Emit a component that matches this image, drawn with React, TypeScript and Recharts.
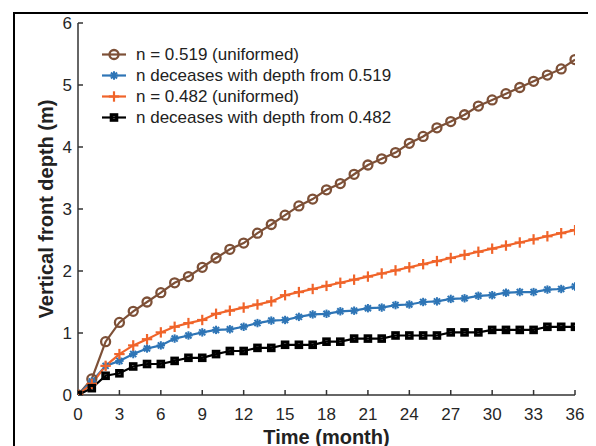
import React from 'react';
import { LineChart, Line, XAxis, YAxis, Legend } from 'recharts';

const months = Array.from({ length: 37 }, (_, i) => i);
const xTicks = [0, 3, 6, 9, 12, 15, 18, 21, 24, 27, 30, 33, 36];
const yTicks = [0, 1, 2, 3, 4, 5, 6];

const seriesA = [0, 0.26, 0.86, 1.17, 1.35, 1.5, 1.65, 1.81, 1.91, 2.06, 2.21, 2.35, 2.45, 2.61, 2.75, 2.9, 3.05, 3.16, 3.31, 3.41, 3.56, 3.71, 3.81, 3.91, 4.06, 4.17, 4.31, 4.41, 4.52, 4.66, 4.76, 4.86, 4.96, 5.06, 5.16, 5.26, 5.41];
const seriesB = [0, 0.22, 0.47, 0.55, 0.66, 0.75, 0.8, 0.91, 0.96, 1.01, 1.05, 1.06, 1.1, 1.16, 1.2, 1.21, 1.26, 1.3, 1.31, 1.35, 1.36, 1.4, 1.41, 1.45, 1.46, 1.5, 1.51, 1.55, 1.56, 1.6, 1.61, 1.65, 1.66, 1.66, 1.7, 1.71, 1.75];
const seriesC = [0, 0.18, 0.47, 0.66, 0.8, 0.9, 1.01, 1.1, 1.16, 1.21, 1.31, 1.36, 1.41, 1.46, 1.51, 1.61, 1.66, 1.71, 1.76, 1.81, 1.86, 1.91, 1.96, 2.01, 2.06, 2.11, 2.16, 2.21, 2.26, 2.31, 2.36, 2.41, 2.46, 2.51, 2.56, 2.61, 2.66];
const seriesD = [0, 0.11, 0.31, 0.35, 0.46, 0.5, 0.5, 0.55, 0.6, 0.6, 0.66, 0.71, 0.71, 0.76, 0.76, 0.81, 0.81, 0.81, 0.86, 0.86, 0.91, 0.91, 0.91, 0.96, 0.96, 0.96, 0.96, 1.01, 1.01, 1.01, 1.05, 1.05, 1.05, 1.05, 1.1, 1.1, 1.1];

const names = [
  'n = 0.519 (uniformed)',
  'n deceases with depth from 0.519',
  'n = 0.482 (uniformed)',
  'n deceases with depth from 0.482',
];

const data = months.map((m, i) => ({ t: m, a: seriesA[i], b: seriesB[i], c: seriesC[i], d: seriesD[i] }));

const BROWN = '#7D5037';
const BLUE = '#2E75B6';
const ORANGE = '#F0642A';
const BLACK = '#000000';

const Marker = ({ kind, cx, cy }: { kind: string; cx: number; cy: number }) => {
  if (cx == null || cy == null) return <g />;
  if (kind === 'circle') {
    return <circle cx={cx} cy={cy} r={4.5} fill="none" stroke={BROWN} strokeWidth={2.3} />;
  }
  if (kind === 'star') {
    const r = 4.2;
    const d = r * 0.72;
    return (
      <g stroke={BLUE} strokeWidth={2}>
        <line x1={cx - r} y1={cy} x2={cx + r} y2={cy} />
        <line x1={cx} y1={cy - r} x2={cx} y2={cy + r} />
        <line x1={cx - d} y1={cy - d} x2={cx + d} y2={cy + d} />
        <line x1={cx - d} y1={cy + d} x2={cx + d} y2={cy - d} />
      </g>
    );
  }
  if (kind === 'plus') {
    const r = 5.2;
    return (
      <g stroke={ORANGE} strokeWidth={2.2}>
        <line x1={cx - r} y1={cy} x2={cx + r} y2={cy} />
        <line x1={cx} y1={cy - r} x2={cx} y2={cy + r} />
      </g>
    );
  }
  return <rect x={cx - 2.7} y={cy - 2.7} width={5.4} height={5.4} fill="none" stroke={BLACK} strokeWidth={3.2} />;
};

const legendItems = [
  { kind: 'circle', color: BROWN, name: names[0] },
  { kind: 'star', color: BLUE, name: names[1] },
  { kind: 'plus', color: ORANGE, name: names[2] },
  { kind: 'square', color: BLACK, name: names[3] },
];

const LegendContent = () => (
  <div style={{ fontFamily: 'Arial, "Liberation Sans", sans-serif', fontSize: 17, color: '#222' }}>
    {legendItems.map((it) => (
      <div key={it.name} style={{ display: 'flex', alignItems: 'center', height: 21, whiteSpace: 'nowrap' }}>
        <svg width={34} height={21} style={{ display: 'block' }}>
          <line x1={0} y1={10.5} x2={24} y2={10.5} stroke={it.color} strokeWidth={2.2} />
          <Marker kind={it.kind} cx={12} cy={10.5} />
        </svg>
        <span>{it.name}</span>
      </div>
    ))}
  </div>
);

const tickStyle = { fontSize: 17, fill: '#262626', fontFamily: 'Arial, "Liberation Sans", sans-serif' };
const axisColor = '#333333';

export default function App() {
  return (
    <div style={{ position: 'relative', width: 588, height: 438, overflow: 'hidden', background: '#fff' }}>
      <div
        style={{
          position: 'absolute',
          left: 5,
          top: 4,
          width: 700,
          height: 600,
          border: '2px solid #000',
          pointerEvents: 'none',
        }}
      />
      <LineChart width={588} height={438} data={data} margin={{ top: 15, right: 21, bottom: 21, left: 30 }}>
        <XAxis
          dataKey="t"
          type="number"
          domain={[0, 36]}
          ticks={xTicks}
          interval={0}
          height={30}
          tickSize={-5}
          tickMargin={18}
          tick={tickStyle}
          stroke={axisColor}
          axisLine={{ stroke: axisColor, strokeWidth: 1.5 }}
          tickLine={{ stroke: axisColor, strokeWidth: 1.5 }}
          allowDataOverflow
          label={{
            value: 'Time (month)',
            position: 'bottom',
            offset: 5,
            style: { fontSize: 20, fontWeight: 'bold', fill: '#222', fontFamily: 'Arial, "Liberation Sans", sans-serif' },
          }}
        />
        <XAxis
          xAxisId="top"
          orientation="top"
          type="number"
          domain={[0, 36]}
          ticks={xTicks}
          interval={0}
          height={0}
          tickSize={-5}
          tick={false}
          axisLine={{ stroke: axisColor, strokeWidth: 1.5 }}
          tickLine={{ stroke: axisColor, strokeWidth: 1.5 }}
          allowDataOverflow
        />
        <YAxis
          type="number"
          domain={[0, 6]}
          ticks={yTicks}
          interval={0}
          width={40}
          tickSize={-5}
          tickMargin={11}
          tick={tickStyle}
          axisLine={{ stroke: axisColor, strokeWidth: 1.5 }}
          tickLine={{ stroke: axisColor, strokeWidth: 1.5 }}
          allowDataOverflow
          label={{
            value: 'Vertical front depth (m)',
            angle: -90,
            position: 'insideLeft',
            offset: 8,
            style: { fontSize: 20, fontWeight: 'bold', fill: '#222', textAnchor: 'middle', fontFamily: 'Arial, "Liberation Sans", sans-serif' },
          }}
        />
        <YAxis
          yAxisId="right"
          orientation="right"
          type="number"
          domain={[0, 6]}
          ticks={yTicks}
          interval={0}
          width={0}
          tickSize={-5}
          tick={false}
          axisLine={{ stroke: axisColor, strokeWidth: 1.5 }}
          tickLine={{ stroke: axisColor, strokeWidth: 1.5 }}
          allowDataOverflow
        />
        <Legend
          layout="vertical"
          align="center"
          verticalAlign="middle"
          content={<LegendContent />}
          wrapperStyle={{ left: 94, top: 36, width: 320 }}
        />
        <Line
          dataKey="a"
          name={names[0]}
          stroke={BROWN}
          strokeWidth={2.2}
          isAnimationActive={false}
          dot={(p: any) => <Marker key={`a${p.index}`} kind="circle" cx={p.cx} cy={p.cy} />}
        />
        <Line
          dataKey="b"
          name={names[1]}
          stroke={BLUE}
          strokeWidth={2.2}
          isAnimationActive={false}
          dot={(p: any) => <Marker key={`b${p.index}`} kind="star" cx={p.cx} cy={p.cy} />}
        />
        <Line
          dataKey="c"
          name={names[2]}
          stroke={ORANGE}
          strokeWidth={2.2}
          isAnimationActive={false}
          dot={(p: any) => <Marker key={`c${p.index}`} kind="plus" cx={p.cx} cy={p.cy} />}
        />
        <Line
          dataKey="d"
          name={names[3]}
          stroke={BLACK}
          strokeWidth={2.2}
          isAnimationActive={false}
          dot={(p: any) => <Marker key={`d${p.index}`} kind="square" cx={p.cx} cy={p.cy} />}
        />
      </LineChart>
    </div>
  );
}
